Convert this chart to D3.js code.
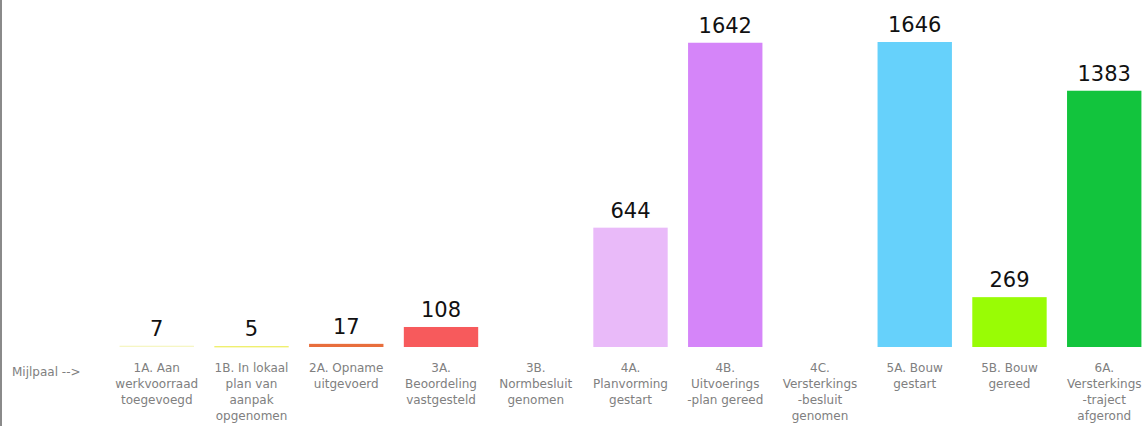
<!DOCTYPE html>
<html><head><meta charset="utf-8">
<script src="https://cdn.jsdelivr.net/npm/d3@7"></script>
<style>
html,body{margin:0;padding:0;background:#fff;}
svg{display:block;}
</style></head>
<body>
<script>
const categories = ["1A","1B","2A","3A","3B","4A","4B","4C","5A","5B","6A"];
const labels = [
  ["1A. Aan","werkvoorraad","toegevoegd"],
  ["1B. In lokaal","plan van","aanpak","opgenomen"],
  ["2A. Opname","uitgevoerd"],
  ["3A.","Beoordeling","vastgesteld"],
  ["3B.","Normbesluit","genomen"],
  ["4A.","Planvorming","gestart"],
  ["4B.","Uitvoerings","-plan gereed"],
  ["4C.","Versterkings","-besluit","genomen"],
  ["5A. Bouw","gestart"],
  ["5B. Bouw","gereed"],
  ["6A.","Versterkings","-traject","afgerond"]
];
const values = [7, 5, 17, 108, null, 644, 1642, null, 1646, 269, 1383];
const colors = ["#f6f6c4","#eeee66","#e86e3c","#f75a5c","#cccccc","#e9baf9","#d585f9","#cccccc","#66d1fb","#99fc05","#12c43d"];
const axisLabel = "Mijlpaal -->";

const W = 1148, H = 426;
const svg = d3.select("body").append("svg").attr("width", W).attr("height", H);

// left border
svg.append("rect").attr("x",0).attr("y",0).attr("width",2).attr("height",H).attr("fill","#8a8a8a");

const x = d3.scaleBand().domain(categories).range([109.4, 1151.6]).paddingInner(0.215).paddingOuter(0.1075);
const y = d3.scaleLinear().domain([0, 1646]).range([347, 42]);

const g = svg.append("g");
categories.forEach((c, i) => {
  const v = values[i];
  if (v == null) return;
  g.append("rect")
    .attr("x", x(c)).attr("width", x.bandwidth())
    .attr("y", y(v)).attr("height", Math.max(y(0) - y(v), 1.3))
    .attr("fill", colors[i]);
  g.append("text")
    .attr("x", x(c) + x.bandwidth()/2)
    .attr("y", y(v) - 10)
    .attr("text-anchor","middle")
    .attr("font-family","DejaVu Sans, Verdana, sans-serif")
    .attr("font-size", 21)
    .attr("fill","#111")
    .text(v);
});

// category labels
categories.forEach((c, i) => {
  const t = svg.append("text")
    .attr("x", x(c) + x.bandwidth()/2)
    .attr("y", 372)
    .attr("text-anchor","middle")
    .attr("font-family","DejaVu Sans, Verdana, sans-serif")
    .attr("font-size", 12)
    .attr("fill","#808080");
  labels[i].forEach((line, j) => {
    t.append("tspan").attr("x", x(c) + x.bandwidth()/2).attr("dy", j === 0 ? 0 : 16).text(line);
  });
});

svg.append("text").attr("x", 12).attr("y", 376)
  .attr("font-family","DejaVu Sans, Verdana, sans-serif")
  .attr("font-size", 12).attr("fill","#808080").text(axisLabel);
</script>
</body></html>
